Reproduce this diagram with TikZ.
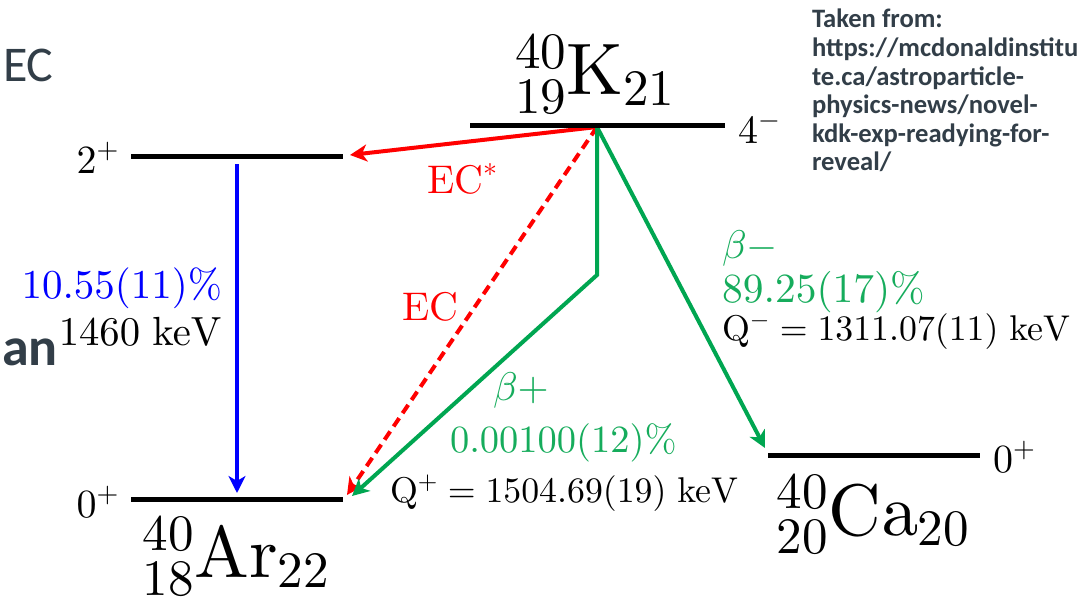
\documentclass[tikz,border=0pt]{standalone}
\usepackage[no-math]{fontspec}
\newfontfamily\carlito{Carlito}
\usetikzlibrary{arrows.meta}
\DeclareFontShape{OT1}{cmr}{m}{n}{<->cmr10}{}
\DeclareFontShape{OML}{cmm}{m}{it}{<->cmmi10}{}
\DeclareFontShape{OMS}{cmsy}{m}{n}{<->cmsy10}{}
\DeclareFontShape{OMX}{cmex}{m}{n}{<->cmex10}{}
\definecolor{slate}{RGB}{50,62,72}
\definecolor{dgreen}{RGB}{0,166,81}
\definecolor{lgreen}{RGB}{22,172,92}
\newcommand\setfs[1]{\fontsize{#1}{#1}\selectfont}
\begin{document}
\begin{tikzpicture}[x=1pt,y=-1pt,
  levelline/.style={line width=5pt,black},
  arr/.style={line width=4pt,-{Stealth[length=17pt,width=17pt,inset=5pt]}},
  lab/.style={inner sep=0pt,outer sep=0pt},
  nuc/.style={lab,anchor=base,font=\setfs{73}},
  spin/.style={lab,font=\setfs{40}},
  big/.style={lab,anchor=base west,font=\setfs{40}},
  qtext/.style={lab,anchor=base west,font=\setfs{35.8}},
  sidetext/.style={lab,text=slate,font=\carlito\bfseries\setfs{26.6}},
]
\useasboundingbox (0,0) rectangle (1081,599);

% level coordinates
\coordinate (twoL) at (131,156);  \coordinate (twoR) at (343,156);
\coordinate (arL) at (131,499);   \coordinate (arR) at (343,499);
\coordinate (kL) at (470,126);    \coordinate (kR) at (725,126);
\coordinate (caL) at (768,455);   \coordinate (caR) at (980,455);
\coordinate (kJ) at (597,127);
\coordinate (bend) at (597,275);
\coordinate (blueS) at (237,164); \coordinate (blueE) at (237,493);
\coordinate (ecsE) at (350,155);
\coordinate (ecE) at (347,495);
\coordinate (bpE) at (352,496);
\coordinate (bmE) at (765,448);

% transitions
\draw[arr,blue] (blueS) -- (blueE);
\draw[arr,red] (kJ) -- (ecsE);
\draw[arr,red,dash pattern=on 10pt off 6pt] (kJ) -- (ecE);
\draw[arr,dgreen] (kJ) -- (bend) -- (bpE);
\draw[arr,dgreen] (kJ) -- (bmE);

% levels
\draw[levelline] (twoL) -- (twoR);
\draw[levelline] (arL) -- (arR);
\draw[levelline] (kL) -- (kR);
\draw[levelline] (caL) -- (caR);

% nuclides
\node[nuc] (K) at (595,95) {${}^{40}_{19}\mathrm{K}_{21}$};
\node[nuc] (Ar) at (236,577) {${}^{40}_{18}\mathrm{Ar}_{22}$};
\node[nuc] (Ca) at (873,535) {${}^{40}_{20}\mathrm{Ca}_{20}$};

% spins
\node[spin,anchor=base east] (s2) at (119,173) {$2^{+}$};
\node[spin,anchor=base east] (s0a) at (119,517) {$0^{+}$};
\node[spin,anchor=base west] (s4) at (738,143) {$4^{-}$};
\node[spin,anchor=base west] (s0c) at (993,472) {$0^{+}$};

% gamma labels
\node[lab,anchor=base east,font=\setfs{41},text=blue] (gp) at (222,298) {$\mathrm{10.55(11)\%}$};
\node[lab,anchor=base east,font=\setfs{40.7}] (ge) at (222,345) {$1460\ \mathrm{keV}$};

% EC labels
\node[big,text=red] (ecs) at (427,193) {$\mathrm{EC}^{*}$};
\node[big,text=red] (ec) at (402,320) {$\mathrm{EC}$};

% beta+ labels
\node[big,text=lgreen] (bp1) at (493,400) {$\beta+$};
\node[big,text=lgreen,font=\setfs{38.5}] (bp2) at (450,452) {$\mathrm{0.00100(12)\%}$};
\node[qtext] (bpq) at (390,502) {$\mathrm{Q}^{+} = 1504.69(19)\ \mathrm{keV}$};

% beta- labels
\node[big,text=lgreen] (bm1) at (722,258) {$\beta-$};
\node[big,text=lgreen,font=\setfs{41.5}] (bm2) at (722,302) {$\mathrm{89.25(17)\%}$};
\node[qtext] (bmq) at (722,340) {$\mathrm{Q}^{-} = 1311.07(11)\ \mathrm{keV}$};

% background slide fragments
\node[lab,anchor=base west,text=slate,font=\carlito\setfs{50}] (ecbg) at (3,82) {EC};
\node[lab,anchor=base west,text=slate,font=\carlito\bfseries\setfs{54}] (anbg) at (2,365) {an};

% source note
\node[sidetext,anchor=base west] (src) at (812,28)
  {\begin{tabular}[t]{@{}l@{}}Taken from:\\[1.9pt]https://mcdonaldinstitu\\[1.9pt]te.ca/astroparticle-\\[1.9pt]physics-news/novel-\\[1.9pt]kdk-exp-readying-for-\\[1.9pt]reveal/\end{tabular}};
\end{tikzpicture}
\end{document}
